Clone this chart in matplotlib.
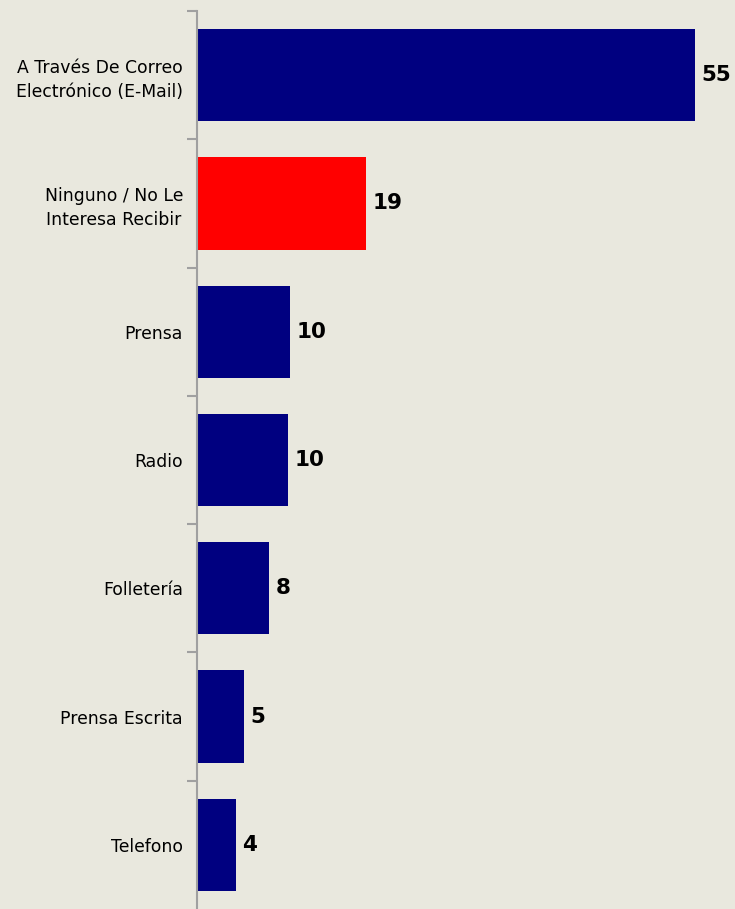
import matplotlib
matplotlib.use("Agg")
import matplotlib.pyplot as plt

categories = ["A Través De Correo\nElectrónico (E-Mail)", "Ninguno / No Le\nInteresa Recibir",
              "Prensa", "Radio", "Folletería", "Prensa Escrita", "Telefono"]
values = [55.0, 18.7, 10.3, 10.1, 8.0, 5.2, 4.3]
labels = ["55", "19", "10", "10", "8", "5", "4"]
colors = ["#000080", "#FF0000", "#000080", "#000080", "#000080", "#000080", "#000080"]

BG = "#E9E8DE"
fig = plt.figure(figsize=(7.35, 9.09), dpi=100, facecolor=BG)
ax = fig.add_axes([197 / 735, 0, 1 - 197 / 735, 898 / 909])
ax.set_facecolor(BG)

pos = list(range(len(categories)))
ax.barh(pos, values, height=0.72, color=colors)
for p, v, l in zip(pos, values, labels):
    ax.text(v + 0.7, p, l, va="center", ha="left", fontsize=15.5, fontweight="bold", color="black")

ax.set_ylim(len(categories) - 0.5, -0.5)
ax.set_xlim(0, 55 * (735 - 197) / 498)
ax.set_yticks(pos)
ax.set_yticklabels(categories, fontsize=12.4, ha="right", multialignment="center",
                   linespacing=1.4)
ax.tick_params(axis="y", length=0, pad=10)
ax.set_yticks([i - 0.5 for i in range(len(categories))], minor=True)
ax.tick_params(axis="y", which="minor", length=7, color="#A0A0A0", width=1.5)
ax.set_xticks([])
for s in ["top", "right", "bottom"]:
    ax.spines[s].set_visible(False)
ax.spines["left"].set_color("#A0A0A0")
ax.spines["left"].set_linewidth(1.5)

fig.savefig("out.png", dpi=100, facecolor=BG)
